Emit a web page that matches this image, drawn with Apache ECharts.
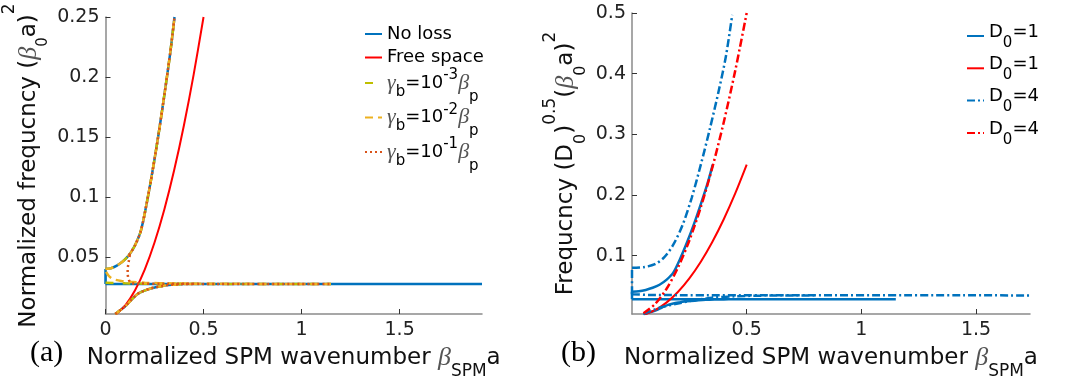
<!DOCTYPE html>
<html><head><meta charset="utf-8">
<script src="https://cdn.jsdelivr.net/npm/echarts@6/dist/echarts.min.js"></script>
<style>html,body{margin:0;padding:0;background:#fff}#c{width:1067px;height:389px}</style>
</head><body><div id="c"></div>
<script>
// ---------- tick labels ----------
const xTicksA = [0, 0.5, 1, 1.5];
const yTicksA = [0.05, 0.1, 0.15, 0.2, 0.25];
const xTicksB = [0.5, 1, 1.5];
const yTicksB = [0.1, 0.2, 0.3, 0.4, 0.5];

// ---------- panel (a) ----------
const upperBranch = [[0,0.0404],[0.03,0.0412],[0.06,0.0435],[0.09,0.047],[0.12,0.052],[0.15,0.060],[0.18,0.072],[0.21,0.095],[0.24,0.122],[0.27,0.152],[0.30,0.185],[0.33,0.220],[0.352,0.25]];
const upperEdge = [[0,0.028],[0,0.0404]];
const plateauNoLoss = [[0,0.028],[1.92,0.028]];
const lowerBranch = [[0.05,0.003],[0.08,0.0068],[0.107,0.0104],[0.13,0.0145],[0.157,0.0188],[0.18,0.0212],[0.206,0.0229],[0.23,0.0242],[0.256,0.0252],[0.29,0.0263],[0.322,0.0271],[0.36,0.0276],[0.4,0.0279],[0.45,0.028]];
const freeSpace = [[0.055,0.003],[0.1,0.01],[0.15,0.0225],[0.2,0.04],[0.25,0.0625],[0.3,0.09],[0.35,0.1225],[0.4,0.16],[0.45,0.2025],[0.5,0.25]];
const plateauLoss3 = [[0,0.029],[0.1,0.0285],[0.3,0.0281],[1.15,0.028]];
const dropLoss2 = [[0.003,0.038],[0.015,0.035],[0.03,0.0328],[0.05,0.0315],[0.08,0.0305],[0.12,0.0298],[0.2,0.029],[0.35,0.0284],[0.6,0.0281],[1.15,0.028]];
const dropLoss1 = [[0.124,0.052],[0.118,0.046],[0.113,0.040],[0.114,0.035],[0.12,0.031],[0.132,0.0288],[0.16,0.0284],[0.3,0.0281],[1.15,0.028]];
const upperLoss1Start = 0.12;

// ---------- panel (b) ----------
const d1Upper = upperBranch;
const d1Edge = upperEdge;
const d1Plateau = [[0,0.028],[1.15,0.028]];
const d1Lower = lowerBranch;
const d1Free = freeSpace;
const d4Upper = [[0,0.080],[0.05,0.081],[0.1,0.086],[0.14,0.097],[0.18,0.118],[0.22,0.15],[0.26,0.195],[0.30,0.25],[0.34,0.31],[0.38,0.375],[0.41,0.43],[0.437,0.497]];
const d4Edge = [[0,0.0365],[0,0.080]];
const d4Plateau = [[0,0.0365],[0.1,0.035],[1.735,0.0345]];
const d4Lower = [[0.05,0.004],[0.1,0.0115],[0.15,0.017],[0.2,0.021],[0.25,0.025],[0.3,0.028],[0.35,0.0305],[0.45,0.033],[0.6,0.0342],[0.8,0.0345]];
const d4Free = [[0.05,0.005],[0.1,0.02],[0.15,0.045],[0.2,0.08],[0.25,0.125],[0.3,0.18],[0.35,0.245],[0.4,0.32],[0.45,0.405],[0.5,0.5]];

// ---------- helpers ----------
const join = (...segs) => segs.reduce((a, s, i) => i ? a.concat([['-','-']], s) : a.concat(s), []);
const F = 'DejaVu Sans', SERIF = 'Liberation Serif';
const BLUE = '#0072BD', RED = '#FF0000', OLIVE = '#BFBF00', YEL = '#EDB120', ORG = '#D95319';

function lineSeries(name, gi, data, color, width, type, smooth) {
  return { name, type: 'line', xAxisIndex: gi, yAxisIndex: gi, data, symbol: 'none', showSymbol: false,
    smooth: smooth === undefined ? 0.3 : smooth, connectNulls: false, animation: false,
    lineStyle: { color, width, type: type || 'solid', cap: 'butt' }, itemStyle: { color } };
}

const titleRich = {
  m: { fontFamily: F, fontSize: 23, lineHeight: 40, color: '#111' },
  g: { fontFamily: SERIF, fontStyle: 'italic', fontSize: 26, lineHeight: 40, color: '#555' },
  s: { fontFamily: F, fontSize: 17, height: 12, verticalAlign: 'bottom', color: '#111' }
};
const yRichA = {
  m: { fontFamily: F, fontSize: 23, lineHeight: 50, color: '#111' },
  g: { fontFamily: SERIF, fontStyle: 'italic', fontSize: 26, lineHeight: 50, color: '#555' },
  s: { fontFamily: F, fontSize: 15, height: 23, verticalAlign: 'bottom', color: '#111' },
  p: { fontFamily: F, fontSize: 17, height: 10, verticalAlign: 'top', color: '#111' }
};
const yRichB = {
  m: { fontFamily: F, fontSize: 23, lineHeight: 50, color: '#111' },
  g: { fontFamily: SERIF, fontStyle: 'italic', fontSize: 26, lineHeight: 50, color: '#555' },
  s: { fontFamily: F, fontSize: 16, height: 20, verticalAlign: 'bottom', color: '#111' },
  p: { fontFamily: F, fontSize: 17, height: 20, verticalAlign: 'top', color: '#111' }
};
const xName = '{m|Normalized SPM wavenumber }{g|β}{s|SPM}{m|a}';

function xAxis(gi, max, ticks) {
  return { type: 'value', gridIndex: gi, min: 0, max,
    axisLine: { show: true, lineStyle: { color: '#8a8a8a', width: 1.5 } },
    axisTick: { show: true, inside: true, length: 5, customValues: ticks, lineStyle: { color: '#333', width: 1 } },
    axisLabel: { customValues: ticks, margin: 7, fontFamily: F, fontSize: 19, color: '#222' },
    splitLine: { show: false },
    name: xName, nameLocation: 'middle', nameGap: 21, nameTextStyle: { rich: titleRich } };
}
function yAxis(gi, min, max, ticks, name, gap, rich) {
  return { type: 'value', gridIndex: gi, min, max,
    axisLine: { show: true, lineStyle: { color: '#8a8a8a', width: 1.5 } },
    axisTick: { show: true, inside: true, length: 5, customValues: ticks, lineStyle: { color: '#333', width: 1 } },
    axisLabel: { customValues: ticks, margin: 6, fontFamily: F, fontSize: 19, color: '#222' },
    splitLine: { show: false },
    name, nameLocation: 'middle', nameRotate: 90, nameGap: gap, nameTextStyle: { rich } };
}

const legendLabels = {
  'g3': '{g|γ}{s|b}{m|=10}{p|-3}{g|β}{q|p}',
  'g2': '{g|γ}{s|b}{m|=10}{p|-2}{g|β}{q|p}',
  'g1': '{g|γ}{s|b}{m|=10}{p|-1}{g|β}{q|p}',
  'D1b': '{m|D}{s|0}{m|=1}', 'D1r': '{m|D}{s|0}{m|=1}',
  'D4b': '{m|D}{s|0}{m|=4}', 'D4r': '{m|D}{s|0}{m|=4}'
};
const legRichG = {
  m: { fontFamily: F, fontSize: 18, lineHeight: 40, color: '#000' },
  g: { fontFamily: SERIF, fontStyle: 'italic', fontSize: 22, lineHeight: 40, color: '#555' },
  s: { fontFamily: F, fontSize: 15, height: 22, verticalAlign: 'bottom', color: '#000' },
  q: { fontFamily: F, fontSize: 15, height: 12, verticalAlign: 'bottom', color: '#000' },
  p: { fontFamily: F, fontSize: 15, height: 25, verticalAlign: 'top', color: '#000' }
};
const legRichD = {
  m: { fontFamily: F, fontSize: 18, height: 20, lineHeight: 20, verticalAlign: 'top', color: '#000' },
  s: { fontFamily: F, fontSize: 15, height: 14, lineHeight: 28, verticalAlign: 'bottom', color: '#000' }
};

const series = [
  lineSeries('No loss', 0, join(upperEdge, upperBranch, plateauNoLoss, lowerBranch), BLUE, 2.5),
  lineSeries('Free space', 0, freeSpace, RED, 2),
  lineSeries('g3', 0, join(upperBranch, plateauLoss3, lowerBranch), OLIVE, 2.5, [8, 9]),
  lineSeries('g2', 0, join(upperBranch, dropLoss2, lowerBranch), YEL, 2.5, [8, 5]),
  lineSeries('g1', 0, join(upperBranch.filter(p => p[0] >= upperLoss1Start), dropLoss1, lowerBranch), ORG, 2.5, [2, 3]),
  lineSeries('D1b', 1, join(d1Edge, d1Upper, d1Plateau, d1Lower), BLUE, 2.5),
  lineSeries('D1r', 1, d1Free, RED, 2),
  lineSeries('D4b', 1, join(d4Edge, d4Upper, d4Plateau, d4Lower), BLUE, 2.5, [8, 3, 2, 3]),
  lineSeries('D4r', 1, d4Free, RED, 2.5, [8, 3, 2, 3])
];

const legendCommon = { orient: 'vertical', itemWidth: 17, itemHeight: 10, padding: 0, itemStyle: { opacity: 0, borderWidth: 0 } };
const option = {
  backgroundColor: '#fff',
  animation: false,
  title: [
    { text: '(a)', left: 30, top: 338, padding: 0, textStyle: { fontFamily: SERIF, fontSize: 30, fontWeight: 'normal', color: '#000' } },
    { text: '(b)', left: 561, top: 338, padding: 0, textStyle: { fontFamily: SERIF, fontSize: 30, fontWeight: 'normal', color: '#000' } }
  ],
  grid: [
    { left: 105, top: 17, width: 377, height: 297 },
    { left: 632, top: 13, width: 398, height: 301 }
  ],
  xAxis: [ xAxis(0, 1.92, xTicksA), xAxis(1, 1.735, xTicksB) ],
  yAxis: [
    yAxis(0, 0.003, 0.25, yTicksA, '{m|Normalized frequcncy (}{g|β}{s|0}{m|a)}{p|2}', 51, yRichA),
    yAxis(1, 0.0038, 0.5, yTicksB, '{m|Frequcncy (D}{s|0}{m|)}{p|0.5}{m|(}{g|β}{s|0}{m|a)}{p|2}', 41, yRichB)
  ],
  legend: [
    Object.assign({ data: ['No loss', 'Free space'], left: 364, top: 23, itemGap: 1.5,
      textStyle: { fontFamily: F, fontSize: 18, lineHeight: 22, color: '#000' } }, legendCommon),
    Object.assign({ data: ['g3', 'g2', 'g1'], left: 364, top: 68, itemGap: -2,
      formatter: n => legendLabels[n], textStyle: { fontFamily: F, fontSize: 18, color: '#000', rich: legRichG } }, legendCommon),
    Object.assign({ data: ['D1b', 'D1r', 'D4b', 'D4r'], left: 966, top: 22, itemGap: 3.8,
      formatter: n => legendLabels[n], textStyle: { fontFamily: F, fontSize: 18, color: '#000', rich: legRichD } }, legendCommon)
  ],
  series
};
const chart = echarts.init(document.getElementById('c'), null, { renderer: 'canvas' });
chart.setOption(option);
</script>
</body></html>
